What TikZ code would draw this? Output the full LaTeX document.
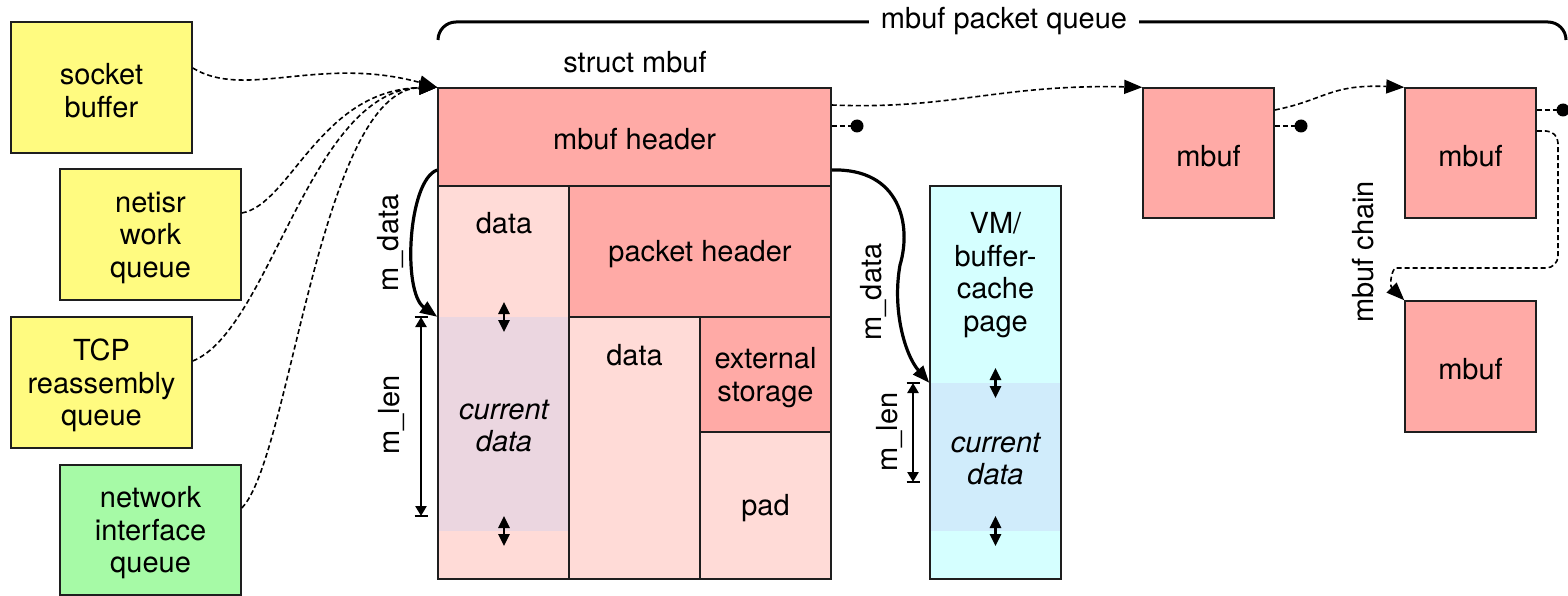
\documentclass[tikz,border=0pt]{standalone}
\usepackage{fontspec}
\setmainfont{TeX Gyre Heros}
\usetikzlibrary{arrows.meta}
\definecolor{ylw}{RGB}{255,251,128}
\definecolor{grn}{RGB}{166,250,166}
\definecolor{hdr}{RGB}{255,170,166}
\definecolor{lpk}{RGB}{255,219,215}
\definecolor{lav}{RGB}{235,214,224}
\definecolor{cyn}{RGB}{213,255,255}
\definecolor{lbl}{RGB}{208,236,251}
\definecolor{edge}{RGB}{30,30,30}
\tikzset{
  box/.style={draw=edge, line width=1.5pt, inner sep=0pt, align=center},
  band/.style={inner sep=0pt, align=center},
  dasharrow/.style={line width=1.6pt, dash pattern=on 5pt off 3pt, -{Triangle[length=18pt,width=14pt]}},
  dashline/.style={line width=1.6pt, dash pattern=on 5pt off 3pt},
  ptr/.style={line width=3.2pt, -{Triangle[length=17pt,width=13pt]}},
  dbl/.style={line width=2.6pt, {Triangle[length=12pt,width=11pt]}-{Triangle[length=12pt,width=11pt]}},
  mlen/.style={line width=2.8pt, {Triangle[length=10pt,width=11pt]}-{Triangle[length=10pt,width=11pt]}},
  barend/.style={line width=2.6pt},
  brace/.style={line width=3pt, rounded corners=18pt},
  lbl/.style={align=center, inner sep=0pt},
  dot/.style={fill=black}
}
\begin{document}
\begin{tikzpicture}[x=1pt,y=-1pt, font=\fontsize{29}{32.5}\selectfont]
\useasboundingbox (0,0) rectangle (1568,596);

% left source boxes
\node[box, fill=ylw, minimum width=181pt, minimum height=131pt] (sock) at (101.5,87.5) {};
\node[lbl] (socktxt) at ([yshift=-3pt]sock.center) {socket\\buffer};
\node[box, fill=ylw, minimum width=181pt, minimum height=131pt] (netisr) at (150.5,234.5) {};
\node[lbl] (netisrtxt) at ([yshift=-3pt]netisr.center) {netisr\\work\\queue};
\node[box, fill=ylw, minimum width=181pt, minimum height=131pt] (tcp) at (101.5,382.5) {};
\node[lbl] (tcptxt) at ([yshift=-3pt]tcp.center) {TCP\\reassembly\\queue};
\node[box, fill=grn, minimum width=181pt, minimum height=130pt] (nic) at (150.5,530) {};
\node[lbl] (nictxt) at ([yshift=-3pt]nic.center) {network\\interface\\queue};

% struct mbuf
\node[lbl] (smbuf) at (635,62) {struct mbuf};
\node[box, fill=hdr, minimum width=393pt, minimum height=98pt] (hdr) at (634.5,137) {};
\node[lbl] (hdrtxt) at ([yshift=-2pt]hdr.center) {mbuf header};
\node[box, fill=lpk, minimum width=131pt, minimum height=393pt] (col) at (503.5,382.5) {};
\node[band, fill=lav, minimum width=129.5pt, minimum height=214pt] (band) at (503.5,424) {};
\node[lbl] (coldata) at (504,223) {data};
\node[lbl] (colcur) at (504,426) {\itshape current\\\itshape data};
\node[box, fill=hdr, minimum width=262pt, minimum height=131pt] (pkt) at (700,251.5) {};
\node[lbl] (pkttxt) at ([yshift=-3pt]pkt.center) {packet header};
\node[box, fill=lpk, minimum width=131pt, minimum height=262pt] (dmid) at (634.5,448) {};
\node[lbl] (dmidtxt) at (634.5,355) {data};
\node[box, fill=hdr, minimum width=131pt, minimum height=115pt] (ext) at (765.5,374.5) {};
\node[lbl] (exttxt) at ([yshift=-3pt]ext.center) {external\\storage};
\node[box, fill=lpk, minimum width=131pt, minimum height=147pt] (pad) at (765.5,505.5) {};
\node[lbl] (padtxt) at ([yshift=-3pt]pad.center) {pad};

% VM page
\node[box, fill=cyn, minimum width=131pt, minimum height=393pt] (vm) at (995.5,382.5) {};
\node[band, fill=lbl, minimum width=129.5pt, minimum height=148pt] (vmband) at (995.5,457) {};
\node[lbl] (vmtxt) at (995.5,275) {VM/\\buffer-\\cache\\page};
\node[lbl] (vmcur) at (995.5,459) {\itshape current\\\itshape data};

% other mbufs
\node[box, fill=hdr, minimum width=131pt, minimum height=130pt] (m1) at (1208.5,153) {};
\node[lbl] (m1txt) at ([yshift=-3pt]m1.center) {mbuf};
\node[box, fill=hdr, minimum width=131pt, minimum height=130pt] (m2) at (1470.5,153) {};
\node[lbl] (m2txt) at ([yshift=-3pt]m2.center) {mbuf};
\node[box, fill=hdr, minimum width=131pt, minimum height=131pt] (m3) at (1470.5,366.5) {};
\node[lbl] (m3txt) at ([yshift=-3pt]m3.center) {mbuf};

% brace for packet queue
\draw[brace] (438,40) -- (438,22) -- (1566,22) -- (1566,40);
\node[lbl, fill=white, inner xsep=12pt, inner ysep=2pt] (pq) at (1004,21.5) {mbuf packet queue};

% source arrows
\draw[dasharrow] ([yshift=19.5pt]sock.east) .. controls (245,100) and (320,55) .. (hdr.north west);
\draw[dasharrow] ([yshift=21.5pt]netisr.east) .. controls (290,205) and (320,90) .. (hdr.north west);
\draw[dasharrow] ([yshift=21.5pt]tcp.east) .. controls (270,330) and (310,90) .. (hdr.north west);
\draw[dasharrow] ([yshift=22pt]nic.east) .. controls (290,460) and (320,90) .. (hdr.north west);

% queue links
\draw[dasharrow] ([yshift=32pt]hdr.east) .. controls (950,110) and (1000,84) .. (m1.north west);
\coordinate (d1) at (857,126);
\draw[dashline] ([yshift=11pt]hdr.east) -- (d1);
\fill[dot] (d1) circle (6.5pt);
\draw[dasharrow] ([yshift=43pt]m1.east) .. controls (1325,100) and (1330,84) .. (m2.north west);
\coordinate (d2) at (1301,126);
\draw[dashline] ([yshift=27pt]m1.east) -- (d2);
\fill[dot] (d2) circle (6.5pt);
\coordinate (d3) at (1563,110);
\draw[dashline] ([yshift=43pt]m2.east) -- (d3);
\fill[dot] (d3) circle (6.5pt);
\draw[dasharrow] ([yshift=22pt]m2.east) [rounded corners=12pt] -- (1558,131) -- (1558,268) -- (1408,268) [sharp corners] .. controls (1392,268) and (1389,285) .. (m3.north west);
\node[lbl, rotate=90] (chain) at (1363,252) {mbuf chain};

% m_data pointers
\draw[ptr] ([yshift=-33pt]hdr.west) .. controls (408,180) and (402,292) .. (col.west |- band.north);
\node[lbl, rotate=90] (mdl) at (390,243) {m\_data};
\draw[ptr] ([yshift=-33pt]hdr.east) .. controls (900,168) and (912,225) .. (900,265) .. controls (892,310) and (905,355) .. (vm.west |- vmband.north);
\node[lbl, rotate=90] (mdr) at (873,292) {m\_data};

% m_len
\coordinate (l1) at (421,317);
\coordinate (l2) at (421,516);
\draw[mlen] (l1) -- (l2);
\draw[barend] ([xshift=-6.5pt]l1) -- ([xshift=6.5pt]l1);
\draw[barend] ([xshift=-6.5pt]l2) -- ([xshift=6.5pt]l2);
\node[lbl, rotate=90] (mll) at (391,415) {m\_len};
\coordinate (r1) at (913,383);
\coordinate (r2) at (913,482);
\draw[mlen] (r1) -- (r2);
\draw[barend] ([xshift=-6.5pt]r1) -- ([xshift=6.5pt]r1);
\draw[barend] ([xshift=-6.5pt]r2) -- ([xshift=6.5pt]r2);
\node[lbl, rotate=90] (mlr) at (889,432) {m\_len};

% small double arrows
\coordinate (a1) at (504,302); \coordinate (a2) at (504,332);
\draw[dbl] (a1) -- (a2);
\coordinate (a3) at (504,516); \coordinate (a4) at (504,546);
\draw[dbl] (a3) -- (a4);
\coordinate (a5) at (995.5,368); \coordinate (a6) at (995.5,398);
\draw[dbl] (a5) -- (a6);
\coordinate (a7) at (995.5,516); \coordinate (a8) at (995.5,546);
\draw[dbl] (a7) -- (a8);
\end{tikzpicture}
\end{document}
